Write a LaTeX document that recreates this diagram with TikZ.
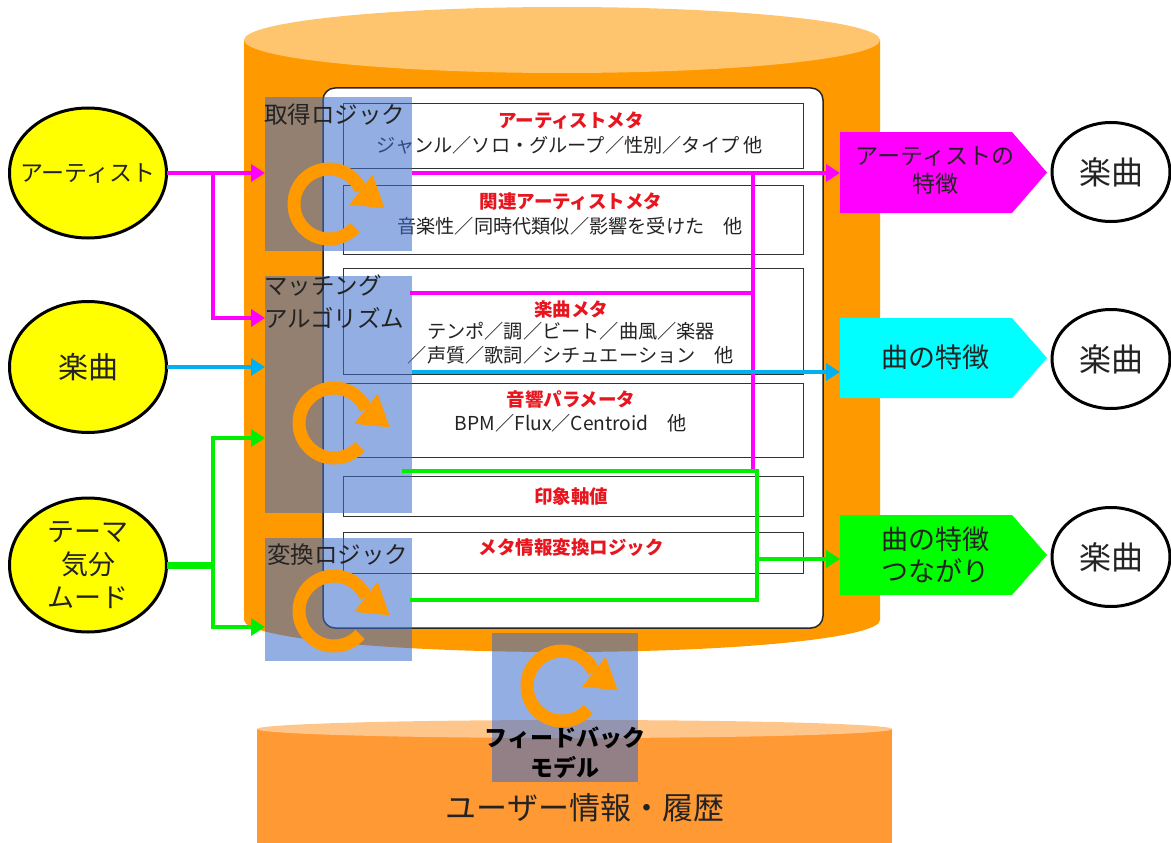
\documentclass[tikz,border=0pt]{standalone}
\usepackage{fontspec}
\setmainfont{Noto Sans CJK JP}
\usetikzlibrary{arrows.meta,shapes.geometric}
\definecolor{orng}{RGB}{255,153,0}
\definecolor{orngtop}{RGB}{255,196,110}
\definecolor{orngB}{RGB}{255,153,51}
\definecolor{orngBtop}{RGB}{255,198,140}
\definecolor{ovl}{RGB}{59,108,204}
\definecolor{pinkc}{RGB}{255,0,255}
\definecolor{cyanl}{RGB}{0,176,240}
\definecolor{cyanf}{RGB}{0,255,255}
\definecolor{greenc}{RGB}{0,238,0}
\definecolor{greenf}{RGB}{0,255,0}
\definecolor{redt}{RGB}{232,20,30}
\definecolor{txt}{RGB}{35,35,35}
\definecolor{yel}{RGB}{255,255,0}
\newcommand\cycarrow[2]{%
  \begin{scope}[shift={(#1,#2)}]
    \draw[cycring] (-42:35pt) arc[start angle=-42,end angle=-336,radius=35pt];
    \fill[orng] ([shift={(52:19pt)}]24:35pt) -- ([shift={(-38:30pt)}]24:35pt) -- ([shift={(232:19pt)}]24:35pt) -- cycle;
  \end{scope}}
\begin{document}
\begin{tikzpicture}[x=1pt,y=-1pt,
  every node/.style={inner sep=0pt,outer sep=0pt,text=txt},
  arr/.style={-{Triangle[length=14pt,width=17pt]}},
  pk/.style={draw=pinkc,line width=4.5pt},
  cy/.style={draw=cyanl,line width=4.5pt},
  gr/.style={draw=greenc,line width=4.5pt},
  inbox/.style={rectangle,draw=black!80,line width=1pt,fill=white,minimum width=460},
  blu/.style={rectangle,fill=ovl,fill opacity=0.55},
  cycring/.style={draw=orng,line width=13pt},
  yell/.style={ellipse,draw=black,line width=3pt,fill=yel,minimum width=157},
  wel/.style={ellipse,draw=black,line width=3pt,fill=white,minimum width=118,minimum height=99},
  ttl/.style={text=redt,font=\fontsize{18.5pt}{22pt}\selectfont\bfseries},
  subt/.style={font=\fontsize{19.2pt}{24pt}\selectfont},
  lbl/.style={anchor=west,align=left,font=\fontsize{23.5pt}{33pt}\selectfont},
  pent/.style={rectangle,minimum width=172,minimum height=81},
  ptxt/.style={align=center,font=\fontsize{25pt}{30pt}\selectfont},
]
\useasboundingbox (0,0) rectangle (1171,843);

% --- top cylinder ---
\fill[orng] (244,40) -- (244,620) arc[start angle=180,end angle=360,x radius=318pt,y radius=32pt] -- (880,40) -- cycle;
\fill[orngtop] (562,40) ellipse[x radius=318pt,y radius=33pt];

% --- bottom cylinder ---
\fill[orngB] (257,729) rectangle (892,843);
\fill[orngBtop] (574.5,729) ellipse[x radius=317.5pt,y radius=9pt];
\node[font=\fontsize{31pt}{31pt}\selectfont] (user) at (585,808) {ユーザー情報・履歴};

% --- inner panel ---
\node[rectangle,draw=black!85,line width=1.5pt,fill=white,rounded corners=12pt,minimum width=500,minimum height=540] (panel) at (573,358) {};

\node[inbox,minimum height=64] (m1) at (573,136) {};
\node[inbox,minimum height=69] (m2) at (573,219.5) {};
\node[inbox,minimum height=106] (m3) at (573,321) {};
\node[inbox,minimum height=74] (m4) at (573,420) {};
\node[inbox,minimum height=40] (m5) at (573,496) {};
\node[inbox,minimum height=41] (m6) at (573,552.5) {};

\node[ttl] (t1) at (571,121) {アーティストメタ};
\node[subt] (s1) at (570,145) {ジャンル／ソロ・グループ／性別／タイプ 他};
\node[ttl] (t2) at (571,201) {関連アーティストメタ};
\node[subt] (s2) at (570,226) {音楽性／同時代類似／影響を受けた　他};
\node[ttl] (t3) at (571,309) {楽曲メタ};
\node[subt] (s3) at (571,331) {テンポ／調／ビート／曲風／楽器};
\node[subt] (s3b) at (571,355) {／声質／歌詞／シチュエーション　他};
\node[ttl] (t4) at (571,399) {音響パラメータ};
\node[subt] (s4) at (571,423) {BPM／Flux／Centroid　他};
\node[ttl] (t5) at (571,496) {印象軸値};
\node[ttl] (t6) at (571,548) {メタ情報変換ロジック};

% --- translucent logic boxes ---
\node[blu,minimum width=147,minimum height=154] (bA) at (338.5,174) {};
\node[blu,minimum width=147,minimum height=237] (bB) at (338.5,394.5) {};
\node[blu,minimum width=147,minimum height=123] (bC) at (338.5,599.5) {};
\node[blu,minimum width=146,minimum height=149] (bD) at (565,707.5) {};

% --- left inputs ---
\node[yell,minimum height=130] (artist) at (88,173) {};
\node[font=\fontsize{23pt}{23pt}\selectfont] (artistT) at (artist.center) {アーティスト};
\node[yell,minimum height=131] (song) at (88,367) {};
\node[font=\fontsize{30pt}{30pt}\selectfont] (songT) at (song.center) {楽曲};
\node[yell,minimum height=134] (theme) at (88,565) {};
\node[align=center,font=\fontsize{27pt}{33pt}\selectfont] (themeT) at (theme.center) {テーマ\\気分\\ムード};

\coordinate (jA) at (213,173);
\coordinate (aB) at (265,318);
\draw[pk,arr] (artist.east) -- (bA.west |- artist.east);
\draw[pk,arr] (jA) |- (aB);
\draw[cy,arr] (song.east) -- (bB.west |- song.east);
\coordinate (jC) at (213,565);
\coordinate (gB) at (265,438);
\coordinate (gC) at (265,627);
\draw[greenc,line width=7pt] (theme.east) -- (jC);
\draw[gr,arr] (jC) |- (gB);
\draw[gr,arr] (jC) |- (gC);

% --- right outputs ---
\node[pent] (fA) at (926,172.5) {};
\fill[pinkc] (fA.north west) -- (fA.north east) -- ([xshift=35pt]fA.east) -- (fA.south east) -- (fA.south west) -- cycle;
\node[ptxt,font=\fontsize{23pt}{28pt}\selectfont] (fAt) at (935,171) {アーティストの\\特徴};
\node[pent,minimum height=80] (fB) at (926,358) {};
\fill[cyanf] (fB.north west) -- (fB.north east) -- ([xshift=35pt]fB.east) -- (fB.south east) -- (fB.south west) -- cycle;
\node[ptxt,font=\fontsize{27pt}{32pt}\selectfont] (fBt) at (935,357) {曲の特徴};
\node[pent,minimum height=80] (fC) at (926,555) {};
\fill[greenf] (fC.north west) -- (fC.north east) -- ([xshift=35pt]fC.east) -- (fC.south east) -- (fC.south west) -- cycle;
\node[ptxt,font=\fontsize{27pt}{32pt}\selectfont] (fCt) at (935,555) {曲の特徴\\つながり};

\node[wel] (oA) at (1111,172) {};
\node[font=\fontsize{32pt}{32pt}\selectfont] (oAt) at (oA.center) {楽曲};
\node[wel] (oB) at (1111,359) {};
\node[font=\fontsize{32pt}{32pt}\selectfont] (oBt) at (oB.center) {楽曲};
\node[wel] (oC) at (1111,557) {};
\node[font=\fontsize{32pt}{32pt}\selectfont] (oCt) at (oC.center) {楽曲};

% --- inner connectors ---
\coordinate (p1) at (412,173);
\coordinate (pv) at (753,173);
\coordinate (pvb) at (753,470);
\coordinate (p2) at (410,293);
\draw[pk,arr] (p1) -- (fA.west |- p1);
\draw[pk] (pv) -- (pvb);
\draw[pk] (p2) -- (p2 -| pv);
\coordinate (c1) at (412,372);
\draw[cy,arr] (c1) -- (fB.west |- c1);
\coordinate (g1) at (402,471);
\coordinate (gv) at (757,471);
\coordinate (g2) at (410,600);
\coordinate (g3) at (757,559);
\draw[gr] (g1) -- (gv) |- (g2);
\draw[gr,arr] (g3) -- (fC.west |- g3);

% --- circular arrows ---
\cycarrow{329}{204}
\cycarrow{334}{423}
\cycarrow{334}{611}
\cycarrow{562}{686}

% --- labels ---
\node[lbl] (lA) at (264,115) {取得ロジック};
\node[lbl] (lB) at (264,301.5) {マッチング\\アルゴリズム};
\node[lbl] (lC) at (267,555) {変換ロジック};
\node[align=center,text=black,font=\fontsize{23pt}{30pt}\selectfont\bfseries] (fb) at (565,753) {フィードバック\\モデル};
\end{tikzpicture}
\end{document}
